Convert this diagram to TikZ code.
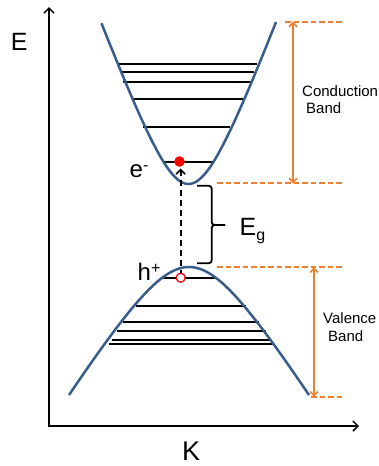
\documentclass[tikz,border=0pt]{standalone}
\usepackage{fontspec}
\setmainfont{Liberation Sans}
\usetikzlibrary{arrows.meta}
\definecolor{bandblue}{RGB}{56,93,138}
\definecolor{bandorange}{RGB}{234,128,48}
\begin{document}
\begin{tikzpicture}[x=1pt,y=-1pt,
  axis/.style={line width=1.8pt, {Straight Barb[length=5pt,width=10pt,line width=1.5pt]}-{Straight Barb[length=5pt,width=10pt,line width=1.5pt]}},
  curve/.style={bandblue, line width=2.5pt},
  level/.style={black, line width=2pt},
  guide/.style={bandorange, line width=2pt, dash pattern=on 5.5pt off 3pt},
  span/.style={bandorange, line width=1.9pt, {Straight Barb[length=4pt,width=8pt,line width=1.6pt]}-{Straight Barb[length=4pt,width=8pt,line width=1.6pt]}},
  lbl/.style={inner sep=0pt, anchor=base west},
  big/.style={font=\fontsize{25}{30}\selectfont},
  small/.style={font=\fontsize{15}{18}\selectfont},
]
\useasboundingbox (0,0) rectangle (378,466);

% axes
\coordinate (Ytop) at (49,7);
\coordinate (O) at (49,426);
\coordinate (Xend) at (359,426);
\draw[axis] (Ytop) -- (O) -- (Xend);
\node[lbl, big] (Elab) at (10.7,50) {E};
\node[lbl, font=\fontsize{27}{30}\selectfont] (Klab) at (182,460) {K};

% conduction levels
\foreach \y/\a/\b in {64.3/117.7/256.7, 71.7/120/254, 81.7/123.3/251, 99.3/132.7/243.3, 126.7/143.3/230, 161.7/162.7/213.3}
  \draw[level] (\a,\y) -- (\b,\y);
% valence levels
\foreach \y/\a/\b in {277.7/161.7/216.7, 305.7/136/245.7, 321.7/123.3/259.3, 331/117.3/266, 340/111.7/271, 344/109.3/273.3}
  \draw[level] (\a,\y) -- (\b,\y);

% band curves
\draw[curve] plot[domain=101.5:276, samples=90, smooth] (\x, {184-92*(sqrt(1+((\x-188.5)/34)^2)-1)});
\draw[curve] plot[domain=69:309, samples=90, smooth] (\x, {267+80*(sqrt(1+((\x-189)/50)^2)-1)});

% electron and hole
\node[circle, fill=red, inner sep=0pt, minimum size=10.6pt] (eDot) at (179.5,161.5) {};
\node[circle, draw=red, line width=1.3pt, fill=white, inner sep=0pt, minimum size=9pt] (hDot) at (180.7,277.7) {};
\draw[line width=1.6pt, dash pattern=on 6pt off 4pt, shorten <=1.5pt, {Straight Barb[length=4.5pt,width=9pt,line width=1.6pt]}-] (hDot.north |- eDot.south) -- (hDot.north);

\node[lbl, font=\fontsize{24}{28}\selectfont] (eLab) at (129.5,177) {e\raisebox{7pt}{\fontsize{16}{16}\selectfont -}};
\node[lbl, font=\fontsize{24}{28}\selectfont] (hLab) at (137.5,280) {h\raisebox{6.5pt}{\fontsize{16}{16}\selectfont +}};

% gap brace
\coordinate (brT) at (197,185.7);
\coordinate (brB) at (197,263.3);
\coordinate (brM) at (225,225);
\draw[line width=1.8pt, rounded corners=3pt] (brT) -- (211.7,185.7) -- (211.7,225) -- (brM);
\draw[line width=1.8pt, rounded corners=3pt] (brB) -- (211.7,263.3) -- (211.7,225) -- (brM);
\node[lbl, big] (EgLab) at (239.5,235) {E\raisebox{-5pt}{\fontsize{16}{16}\selectfont g}};

% orange guides
\coordinate (cTopL) at (285,21.7);  \coordinate (cTopR) at (342,21.7);
\coordinate (cBotL) at (217,183.3); \coordinate (cBotR) at (342,183.3);
\coordinate (vTopL) at (217,267.3); \coordinate (vTopR) at (344,267.3);
\coordinate (vBotL) at (311,396.7); \coordinate (vBotR) at (343,396.7);
\draw[guide] (cTopL) -- (cTopR);
\draw[guide] (cBotL) -- (cBotR);
\draw[guide] (vTopL) -- (vTopR);
\draw[guide] (vBotL) -- (vBotR);
\coordinate (cA) at (293,21.7);  \coordinate (cB) at (293,183.3);
\coordinate (vA) at (314,267.3); \coordinate (vB) at (314,396.7);
\draw[span] (cA) -- (cB);
\draw[span] (vA) -- (vB);

\node[lbl, small] (cb1) at (302,96.5) {Conduction};
\node[lbl, small] (cb2) at (306,113.5) {Band};
\node[lbl, small] (vb1) at (323,323.3) {Valence};
\node[lbl, small] (vb2) at (328,341.7) {Band};
\end{tikzpicture}
\end{document}
